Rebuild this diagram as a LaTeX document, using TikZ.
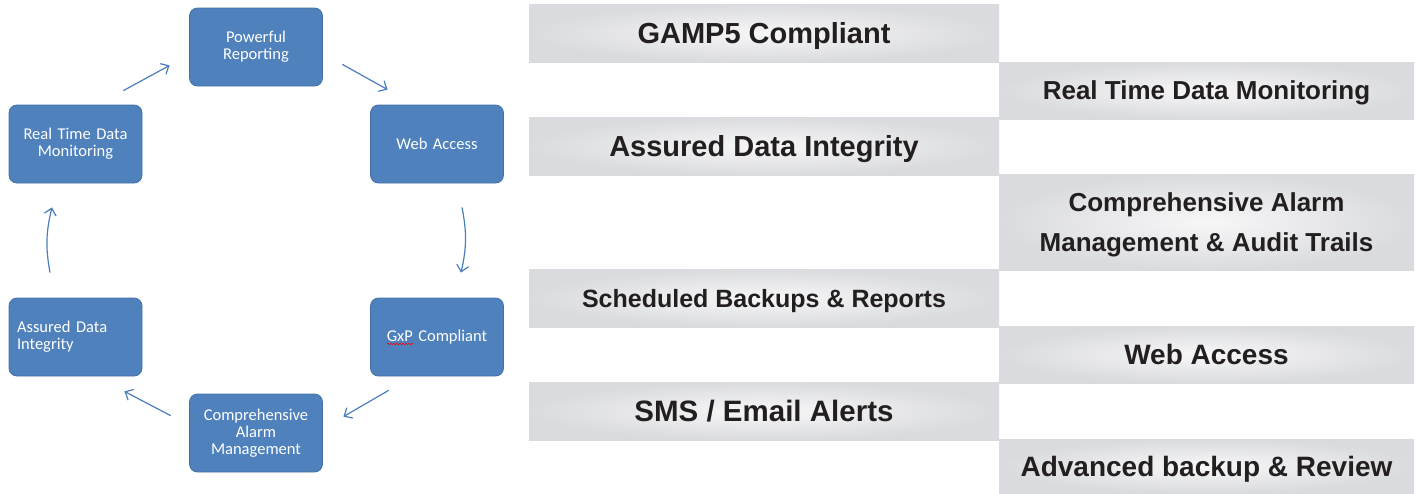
\documentclass[tikz,border=0pt]{standalone}
\usepackage{fontspec}
\setmainfont{Liberation Sans}
\newfontfamily\calibri{Carlito}
\usetikzlibrary{arrows.meta}
\usetikzlibrary{decorations.pathmorphing}
\definecolor{stageblue}{RGB}{79,129,189}
\definecolor{stageedge}{RGB}{66,113,168}
\definecolor{flowblue}{RGB}{74,124,190}
\definecolor{baredge}{RGB}{218,219,222}
\definecolor{barmid}{RGB}{247,247,248}
\definecolor{bartext}{RGB}{35,31,32}
\tikzset{
  stage/.style={draw=stageedge, line width=0.8pt, fill=stageblue, rounded corners=8pt,
    text=white, font=\calibri\fontsize{16.5}{17}\selectfont, text width=117pt,
    inner xsep=8pt, inner ysep=0pt, minimum height=78pt, align=center},
  flow/.style={draw=flowblue, line width=1.2pt, -{Straight Barb[length=6.5pt,width=12pt]}},
  feature/.style={inner sep=0pt, outer sep=0pt, inner color=barmid, outer color=baredge,
    text=bartext, align=center, text depth=0pt, font=\bfseries\fontsize{#1}{40}\selectfont},
  leftbar/.style={feature=#1, minimum width=470pt, minimum height=58pt},
  rightbar/.style={feature=#1, minimum width=415pt, minimum height=57pt},
}

\begin{document}
\begin{tikzpicture}[x=1pt,y=-1pt]
  \useasboundingbox (0,0) rectangle (1417,493);
  \node[stage] (rep) at (256,47) {Powerful\\Reporting};
  \node[stage] (web) at (437,144) {Web Access};
  \node[stage] (gxp) at (437,337) {GxP Compliant};
  \node[stage] (cam) at (256,433) {Comprehensive\\Alarm\\Management};
  \node[stage, align=left] (adi) at (75.5,337) {Assured Data\\Integrity};
  \node[stage] (rtm) at (75.5,144) {Real Time Data\\Monitoring};
  \draw[red, line width=0.6pt, decorate, decoration={snake, amplitude=0.7pt, segment length=3pt}]
    ([shift={(-50,7)}]gxp.center) -- ([shift={(-24,7)}]gxp.center);
  \draw[flow] ([shift={(-19,-14)}]rtm.north east) -- ([shift={(-19.5,-21)}]rep.south west);
  \draw[flow] ([shift={(19.5,-22)}]rep.south east) -- ([shift={(17.5,-15)}]web.north west);
  \draw[flow] ([shift={(25,24)}]web.south) to[bend left=12] ([shift={(24,-25)}]gxp.north);
  \draw[flow] ([shift={(18.5,14)}]gxp.south west) -- ([shift={(20.5,23)}]cam.north east);
  \draw[flow] ([shift={(-18.5,22)}]cam.north west) -- ([shift={(-18,15)}]adi.south east);
  \draw[flow] ([shift={(-25.5,-25)}]adi.north) to[bend left=12] ([shift={(-23.5,24)}]rtm.south);

  \node[leftbar=29] (gamp) at (764,33) {GAMP5 Compliant};
  \node[rightbar=26] (rtdm) at (1206.5,90.5) {Real Time Data Monitoring};
  \node[leftbar=29] (integ) at (764,146) {Assured Data Integrity};
  \node[rightbar=26, minimum height=96pt] (alarm) at (1206.5,222) {Comprehensive Alarm\\Management \& Audit Trails};
  \node[leftbar=25] (backup) at (764,298) {Scheduled Backups \& Reports};
  \node[rightbar=28] (webacc) at (1206.5,354.5) {Web Access};
  \node[leftbar=29.5] (alerts) at (764,411) {SMS / Email Alerts};
  \node[rightbar=28, minimum height=54pt] (review) at (1206.5,466) {Advanced backup \& Review};
\end{tikzpicture}
\end{document}
